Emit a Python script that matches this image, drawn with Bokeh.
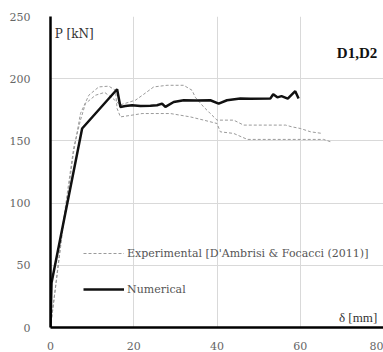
from bokeh.plotting import figure
from bokeh.models import Range1d, FixedTicker, Legend, LegendItem, Label
from bokeh.embed import file_html
from bokeh.resources import INLINE

# Data
num_d = [0, 0.25, 7.6, 16.0, 16.8, 18.0, 19.6, 21.6, 24.0, 25.6, 26.8, 27.6, 29.6, 32.0, 35.0, 38.4,
         40.4, 42.4, 45.6, 48.0, 52.8, 53.5, 54.5, 55.5, 57.0, 58.8, 59.6]
num_p = [0, 36, 160, 191.5, 177.3, 178.0, 178.7, 178.0, 178.3, 178.7, 180.0, 177.3, 181.3, 182.7, 182.5, 182.7,
         180.0, 182.7, 184.0, 183.8, 184.0, 187.5, 185.0, 186.0, 184.0, 190.0, 184.0]

exp1_d = [0, 1.5, 3.0, 4.5, 5.5, 6.4, 7.2, 9.2, 11.6, 14.0, 15.6, 16.0, 16.8, 19.6, 22.0, 26.4, 28.8,
          33.6, 36.8, 40.0, 40.8, 44.0, 47.3, 52.0, 58.0, 65.6, 67.3]
exp1_p = [0, 40, 80, 115, 140, 157, 172, 186.7, 193.4, 194.0, 190.7, 176.0, 169.3, 170.7, 172.0, 172.0, 172.0,
          169.3, 166.7, 164.0, 157.3, 156.0, 151.2, 151.2, 151.2, 151.2, 149.3]

exp2_d = [0, 1.4, 2.8, 4.2, 5.6, 7.2, 8.4, 10.8, 13.0, 15.0, 16.8, 20.4, 22.4, 24.8, 28.0, 32.0, 34.0,
          34.8, 36.8, 38.4, 40.0, 44.0, 46.4, 52.0, 56.5, 58.0, 60.0, 62.5, 65.3]
exp2_p = [0, 38, 78, 112, 145, 166.7, 180.0, 186.7, 189.0, 184.0, 179.0, 182.7, 187.5, 193.4, 194.7, 194.7, 190.7,
          185.0, 177.3, 172.0, 166.7, 166.7, 162.7, 162.7, 162.7, 161.3, 160.0, 157.3, 156.0]

x_ticks = [0, 20, 40, 60, 80]
y_ticks = [0, 50, 100, 150, 200, 250]

p = figure(width=383, height=352, output_backend="svg", toolbar_location=None,
           x_range=Range1d(0, 80), y_range=Range1d(0, 250),
           min_border_left=50, min_border_right=0, min_border_top=16, min_border_bottom=24)
p.outline_line_color = None
p.background_fill_color = "white"

for ax, ticks in ((p.xaxis[0], x_ticks), (p.yaxis[0], y_ticks)):
    ax.ticker = FixedTicker(ticks=ticks)
    ax.axis_line_color = "black"
    ax.axis_line_width = 2.5
    ax.major_tick_line_color = None
    ax.minor_tick_line_color = None
    ax.major_label_text_font = "DejaVu Serif"
    ax.major_label_text_font_size = "11px"
    ax.major_label_text_color = "#666666"
p.yaxis.major_label_standoff = 14
p.xaxis.major_label_standoff = 8

p.xgrid.ticker = FixedTicker(ticks=x_ticks)
p.ygrid.ticker = FixedTicker(ticks=y_ticks)
p.grid.grid_line_color = "#d9d9d9"
p.grid.grid_line_width = 1

e1 = p.line(exp1_d, exp1_p, line_color="#9a9a9a", line_width=1, line_dash="3 2")
e2 = p.line(exp2_d, exp2_p, line_color="#9a9a9a", line_width=1, line_dash="3 2")
nm = p.line(num_d, num_p, line_color="#111111", line_width=2.5)

legend = Legend(items=[LegendItem(label="Experimental [D'Ambrisi & Focacci (2011)]", renderers=[e1]),
                       LegendItem(label="Numerical", renderers=[nm])],
                location=(33, 28), orientation="vertical")
legend.border_line_color = None
legend.background_fill_alpha = 0
legend.padding = 0
legend.margin = 0
legend.spacing = 16
legend.glyph_width = 41
legend.glyph_height = 20
legend.label_height = 20
legend.label_standoff = 3
legend.label_text_font = "DejaVu Serif"
legend.label_text_font_size = "11px"
legend.label_text_color = "#555555"
p.add_layout(legend, "center")

p.add_layout(Label(x=1.0, y=236, text="P [kN]", text_font="DejaVu Serif", text_font_size="12px",
                   text_color="#333333", text_baseline="middle"))
p.add_layout(Label(x=78.5, y=221, text="D1,D2", text_font="Liberation Serif", text_font_size="15px",
                   text_font_style="bold", text_color="#111111", text_align="right", text_baseline="middle"))
p.add_layout(Label(x=78.5, y=8, text="δ [mm]", text_font="Liberation Serif", text_font_size="13px",
                   text_color="#333333", text_align="right", text_baseline="middle"))

open("out.html", "w").write(file_html(p, INLINE))
